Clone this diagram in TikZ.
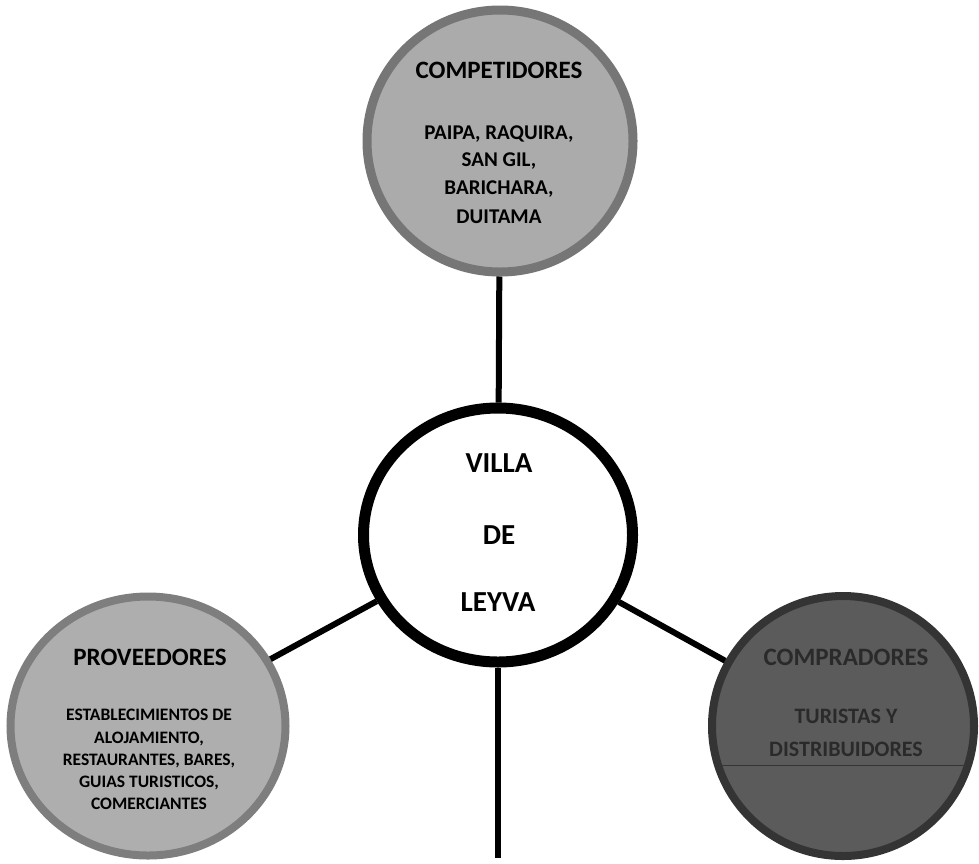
\documentclass[tikz,border=0pt]{standalone}
\usepackage{fontspec}
\setmainfont{Carlito}
\usetikzlibrary{shapes.geometric}
\definecolor{topfill}{HTML}{ABABAB}
\definecolor{topring}{HTML}{767676}
\definecolor{leftfill}{HTML}{AEAEAE}
\definecolor{leftring}{HTML}{7E7E7E}
\definecolor{rightfill}{HTML}{5B5B5B}
\definecolor{rightring}{HTML}{343434}
\definecolor{righttext}{HTML}{2A2A2A}
\begin{document}
\begin{tikzpicture}[x=1pt,y=-1pt,
  bub/.style={ellipse, inner sep=0pt},
  conn/.style={draw=black, line width=6pt},
  hdr/.style={inner sep=0pt, font=\bfseries\fontsize{25}{25}\selectfont, text height=16pt, text depth=0pt},
  bodyt/.style={inner sep=0pt, font=\bfseries\fontsize{21}{21}\selectfont, text height=13.5pt, text depth=0pt},
  smallt/.style={inner sep=0pt, font=\bfseries\fontsize{17.5}{17.5}\selectfont, text height=11.3pt, text depth=0pt},
  bigt/.style={inner sep=0pt, font=\bfseries\fontsize{29}{29}\selectfont, text height=18.7pt, text depth=0pt}]
\useasboundingbox[fill=white] (0,0) rectangle (979,863);

% bubbles
\node[bub, fill=topfill, draw=topring, line width=9pt, minimum width=266pt, minimum height=262pt] (comp) at (500,141) {};
\node[bub, fill=white, draw=black, line width=11pt, minimum width=269pt, minimum height=254pt] (villa) at (498,535) {};
\node[bub, fill=leftfill, draw=leftring, line width=8pt, minimum width=275pt, minimum height=259pt] (prov) at (148,726) {};
\node[bub, fill=rightfill, draw=rightring, line width=8pt, minimum width=262pt, minimum height=260pt] (compr) at (843,726) {};

% faint line across the buyers bubble
\begin{scope}
  \clip (843,726) ellipse [x radius=127pt, y radius=126pt];
  \draw[rightring, line width=1pt] (700,765) -- (990,765);
\end{scope}

% connectors
\coordinate (downend) at (498,858);
\draw[conn] (villa) -- (comp);
\draw[conn] (villa) -- (prov);
\draw[conn] (villa) -- (compr);
\draw[conn] (villa) -- (downend);

% texts: competidores
\node[hdr] (t1) at (499,70) {COMPETIDORES};
\node[bodyt] (t2) at (499,133) {PAIPA, RAQUIRA,};
\node[bodyt] (t3) at (499,160) {SAN GIL,};
\node[bodyt] (t4) at (499,188) {BARICHARA,};
\node[bodyt] (t5) at (499,217) {DUITAMA};

% center
\node[bigt] (c1) at (499,463) {VILLA};
\node[bigt] (c2) at (499,535) {DE};
\node[bigt] (c3) at (498,602) {LEYVA};

% proveedores
\node[hdr] (p1) at (150,657) {PROVEEDORES};
\node[smallt] (p2) at (149,715) {ESTABLECIMIENTOS DE};
\node[smallt] (p3) at (149,738) {ALOJAMIENTO,};
\node[smallt] (p4) at (149,760) {RESTAURANTES, BARES,};
\node[smallt] (p5) at (149,782) {GUIAS TURISTICOS,};
\node[smallt] (p6) at (149,804) {COMERCIANTES};

% compradores
\node[hdr, text=righttext] (r1) at (846,657) {COMPRADORES};
\node[bodyt, text=righttext, font=\bfseries\fontsize{22}{22}\selectfont] (r2) at (846,717) {TURISTAS Y};
\node[bodyt, text=righttext, font=\bfseries\fontsize{22}{22}\selectfont] (r3) at (846,750) {DISTRIBUIDORES};
\end{tikzpicture}
\end{document}
